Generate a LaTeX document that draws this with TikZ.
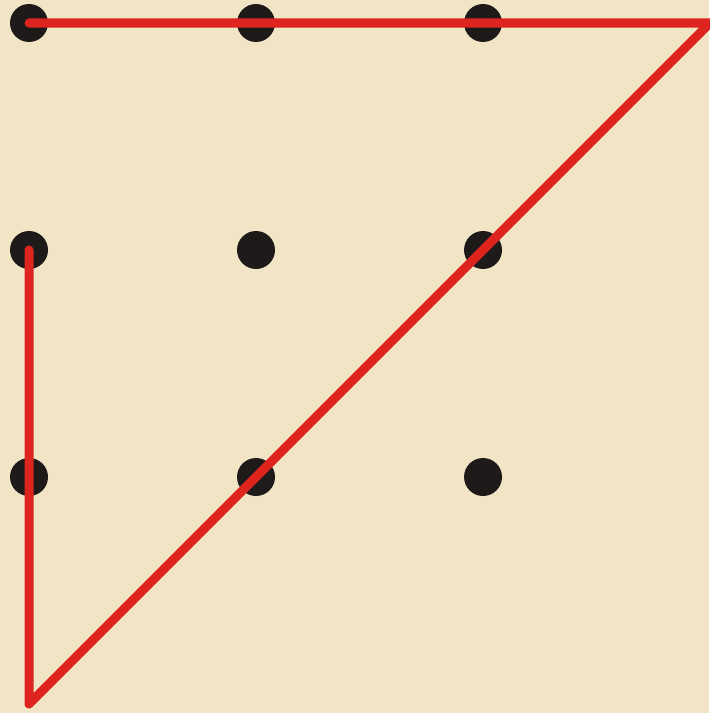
\documentclass[tikz,border=0pt]{standalone}
\usepackage{tikz}
\usepackage{xcolor}

\definecolor{paper}{RGB}{242,229,197}
\definecolor{pen}{RGB}{222,36,30}
\definecolor{ink}{RGB}{30,26,26}

\begin{document}
\begin{tikzpicture}[x=6.81cm,y=6.81cm,
  dot/.style={circle,fill=ink,inner sep=0pt,minimum size=1.14cm},
  stroke/.style={pen,line width=7.7pt,line cap=round,line join=round}]

\fill[paper] (-0.1278,-1.0396) rectangle (2.9956,2.1013);
\useasboundingbox (-0.1278,-1.0396) rectangle (2.9956,2.1013);

% the nine points
\foreach \i in {0,1,2}
  \foreach \j in {0,1,2}
    \node[dot] (d\i\j) at (\i,\j) {};

% turning points outside the square
\coordinate (low) at (0,-1);
\coordinate (high) at (3,2);

\draw[stroke] (d01.center) -- (low) -- (high) -- (d02.center);

\end{tikzpicture}
\end{document}
